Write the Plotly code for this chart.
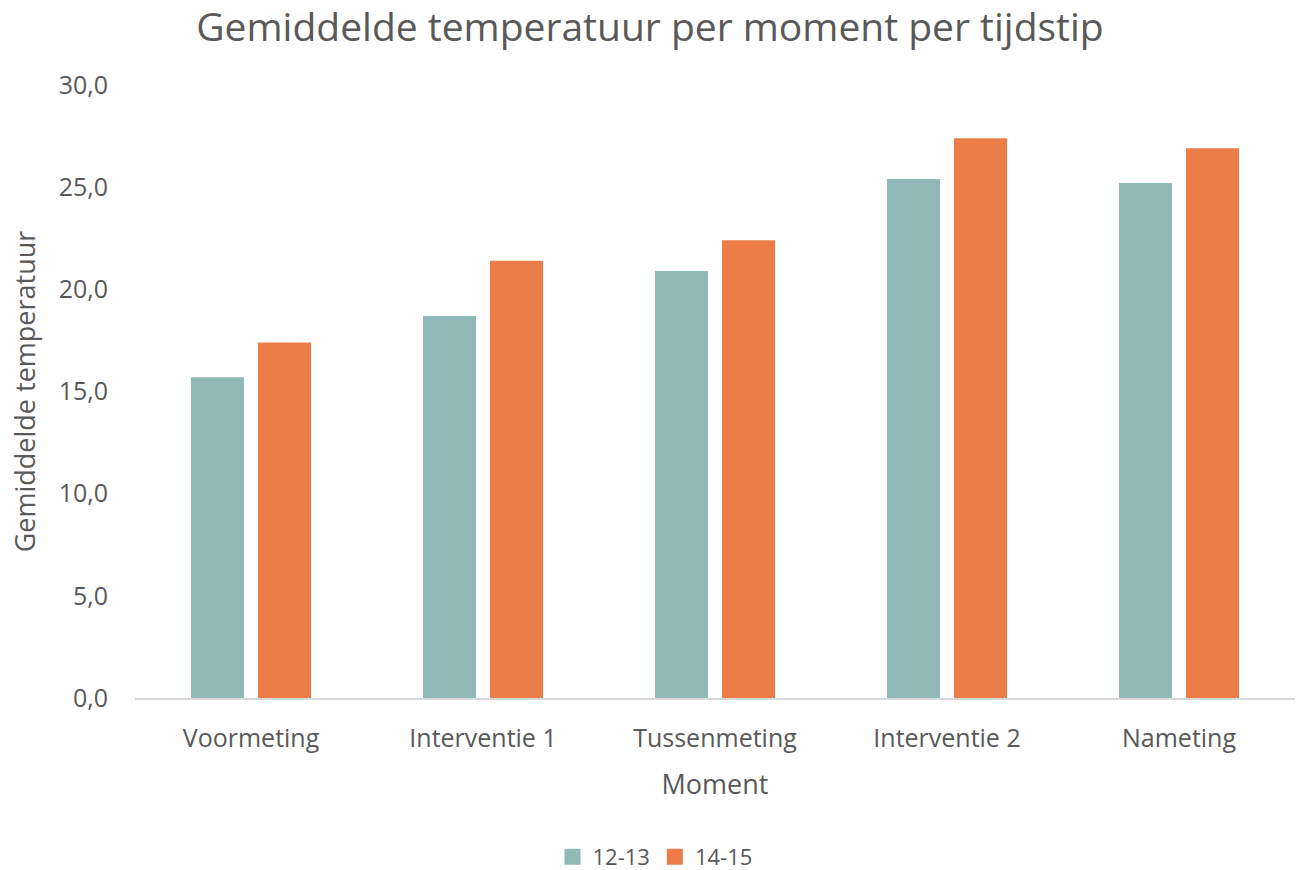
import plotly.graph_objects as go

categories = ["Voormeting", "Interventie 1", "Tussenmeting", "Interventie 2", "Nameting"]
series_names = ["12-13", "14-15"]
values_12_13 = [15.7, 18.7, 20.9, 25.4, 25.2]
values_14_15 = [17.4, 21.4, 22.4, 27.4, 26.9]
y_tickvals = [0, 5, 10, 15, 20, 25, 30]
y_ticktext = ["0,0", "5,0", "10,0", "15,0", "20,0", "25,0", "30,0"]
colors = ["#90B9B8", "#ED7D48"]

FONT = "Open Sans"
TXT = "#595959"

fig = go.Figure()
for name, vals, col in zip(series_names, [values_12_13, values_14_15], colors):
    fig.add_trace(go.Bar(name=name, x=categories, y=vals, showlegend=False,
                         marker=dict(color=col, line=dict(width=0))))
for name, col in zip(series_names, colors):
    fig.add_trace(go.Scatter(name=name, x=[None], y=[None], mode="markers",
                             marker=dict(symbol="square", size=16, color=col)))

W, H = 1307, 870
fig.update_layout(
    width=W, height=H,
    paper_bgcolor="white", plot_bgcolor="white",
    font=dict(family=FONT, color=TXT),
    barmode="group", bargap=0.4224, bargroupgap=0.209,
    margin=dict(l=135, r=12, t=85, b=H - 698, autoexpand=False),
    title=dict(text="Gemiddelde temperatuur per moment per tijdstip",
               x=650 / W, xanchor="center", y=1 - 27 / H, yanchor="middle",
               xref="container", yref="container", font=dict(size=39, color=TXT, family=FONT)),
    xaxis=dict(showline=True, linecolor="#D9D9D9", linewidth=2, automargin=False,
               showgrid=False, ticks="",
               tickfont=dict(size=25, color=TXT), ticklabelstandoff=17,
               title=dict(text="Moment", font=dict(size=27, color=TXT), standoff=22)),
    yaxis=dict(range=[0, 30], tickvals=y_tickvals, ticktext=y_ticktext, automargin=False,
               showgrid=False, zeroline=False, showline=False,
               tickfont=dict(size=25, color=TXT), ticklabelstandoff=26,
               title=dict(text="Gemiddelde temperatuur", font=dict(size=27, color=TXT), standoff=15)),
    legend=dict(orientation="h", x=655 / W, xanchor="center", xref="container",
                y=(H - 857) / H, yanchor="middle", yref="container",
                font=dict(size=22, color=TXT), itemwidth=30, traceorder="normal",
                tracegroupgap=0),
)

fig.write_html("out.html", config={"displayModeBar": False},
               post_script="document.body.style.margin='0';document.body.style.overflow='hidden';")
